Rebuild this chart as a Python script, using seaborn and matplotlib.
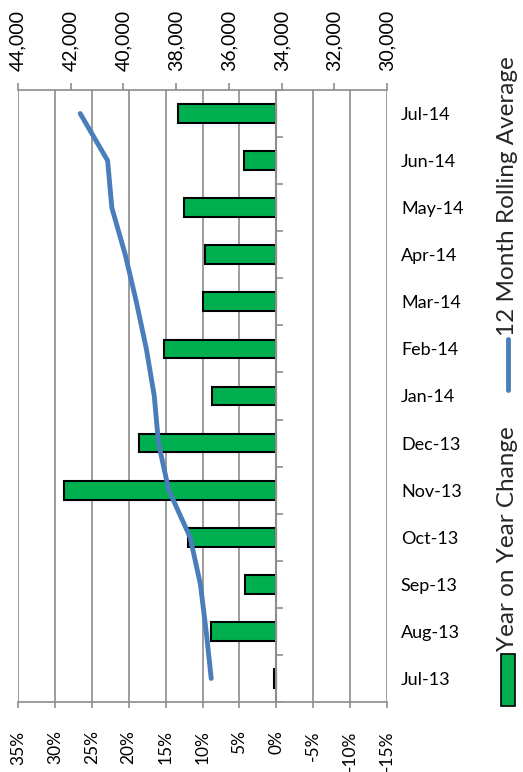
import numpy as np
import pandas as pd
import matplotlib
matplotlib.use("Agg")
import matplotlib.pyplot as plt
from matplotlib.patches import Rectangle
from matplotlib.lines import Line2D
import seaborn as sns

# values (top row of the chart first)
months = ["Jul-14", "Jun-14", "May-14", "Apr-14", "Mar-14", "Feb-14", "Jan-14",
          "Dec-13", "Nov-13", "Oct-13", "Sep-13", "Aug-13", "Jul-13"]
yoy_change = [13.3, 4.4, 12.5, 9.6, 9.9, 15.2, 8.7, 18.6, 28.7, 11.9, 4.3, 8.9, 0.3]
rolling_avg = [41640, 40600, 40440, 39930, 39510, 39130, 38830,
               38670, 38280, 37470, 37080, 36860, 36670]
pct_ticks = list(range(35, -20, -5))
avg_ticks = list(range(44000, 29000, -2000))

GREEN = "#00B050"
BLUE = "#4A7EBB"
GRID = "#8C8C8C"


def main() -> None:
    sns.set_theme(style="white")
    plt.rcParams["font.family"] = ["Lato", "DejaVu Sans"]

    W, H = 523, 772
    fig = plt.figure(figsize=(W / 100, H / 100), dpi=100)
    ax = fig.add_axes([18 / W, 1 - 702 / H, (387 - 18) / W, (702 - 90) / H])

    # bars: year on year change
    df = pd.DataFrame({"month": months, "yoy": yoy_change})
    sns.barplot(data=df, x="yoy", y="month", orient="h", color=GREEN,
                saturation=1, width=0.4, edgecolor="black", linewidth=1.5, ax=ax)
    ax.set_xlim(35, -15)
    ax.set_xticks(pct_ticks)
    ax.set_xticklabels([f"{t}%" for t in pct_ticks], rotation=90)
    ax.tick_params(axis="x", direction="out", length=4.5, width=1.2, color=GRID,
                   pad=16, labelsize=12.5, labelcolor="black", bottom=True)
    ax.grid(axis="x", color=GRID, linewidth=1.2)
    ax.set_axisbelow(True)
    for side in ["left", "right", "top"]:
        ax.spines[side].set_visible(False)
    ax.spines["bottom"].set_color(GRID)
    ax.spines["bottom"].set_linewidth(1.2)

    # category labels outside on the right
    ax.yaxis.tick_right()
    ax.tick_params(axis="y", length=0, pad=10, labelsize=13, labelcolor="black")
    ax.set_xlabel("")
    ax.set_ylabel("")

    # zero axis with small ticks between categories
    ax.axvline(0, color=GRID, linewidth=1.5, zorder=1)
    ax.hlines(np.arange(-0.5, len(months)), 0, -0.9, color=GRID, linewidth=1.2)

    # line: 12 month rolling average on the secondary (top) axis
    ax2 = ax.twiny()
    line_df = pd.DataFrame({"avg": rolling_avg, "pos": np.arange(len(months))})
    sns.lineplot(data=line_df, x="avg", y="pos", orient="y", sort=False,
                 color=BLUE, linewidth=3.5, ax=ax2)
    ax2.set_xlim(44000, 30000)
    ax2.set_xticks(avg_ticks)
    ax2.set_xticklabels([f"{t:,}" for t in avg_ticks], rotation=90)
    ax2.tick_params(axis="x", direction="out", length=5, width=1.2, color=GRID,
                    pad=9, labelsize=14, labelcolor="black", top=True)
    ax2.set_xlabel("")
    ax2.set_ylabel("")
    for side in ["left", "right", "bottom"]:
        ax2.spines[side].set_visible(False)
    ax2.spines["top"].set_color(GRID)
    ax2.spines["top"].set_linewidth(1.2)
    ax.set_ylim(len(months) - 0.5, -0.5)

    # rotated legend on the right
    x_leg = 508 / W
    fig.patches.append(Rectangle((501 / W, 1 - 706 / H), 14 / W, 52 / H,
                                 transform=fig.transFigure, facecolor=GREEN,
                                 edgecolor="black", linewidth=1.2))
    fig.text(x_leg, 1 - 651 / H, "Year on Year Change", rotation=90,
             ha="center", va="bottom", fontsize=17.5)
    fig.lines.append(Line2D([x_leg, x_leg], [1 - 390 / H, 1 - 339 / H],
                            transform=fig.transFigure, color=BLUE,
                            linewidth=3.5, solid_capstyle="round"))
    fig.text(x_leg, 1 - 336 / H, "12 Month Rolling Average", rotation=90,
             ha="center", va="bottom", fontsize=17.5)

    fig.savefig("out.png", dpi=100)
    plt.close(fig)


if __name__ == "__main__":
    main()
